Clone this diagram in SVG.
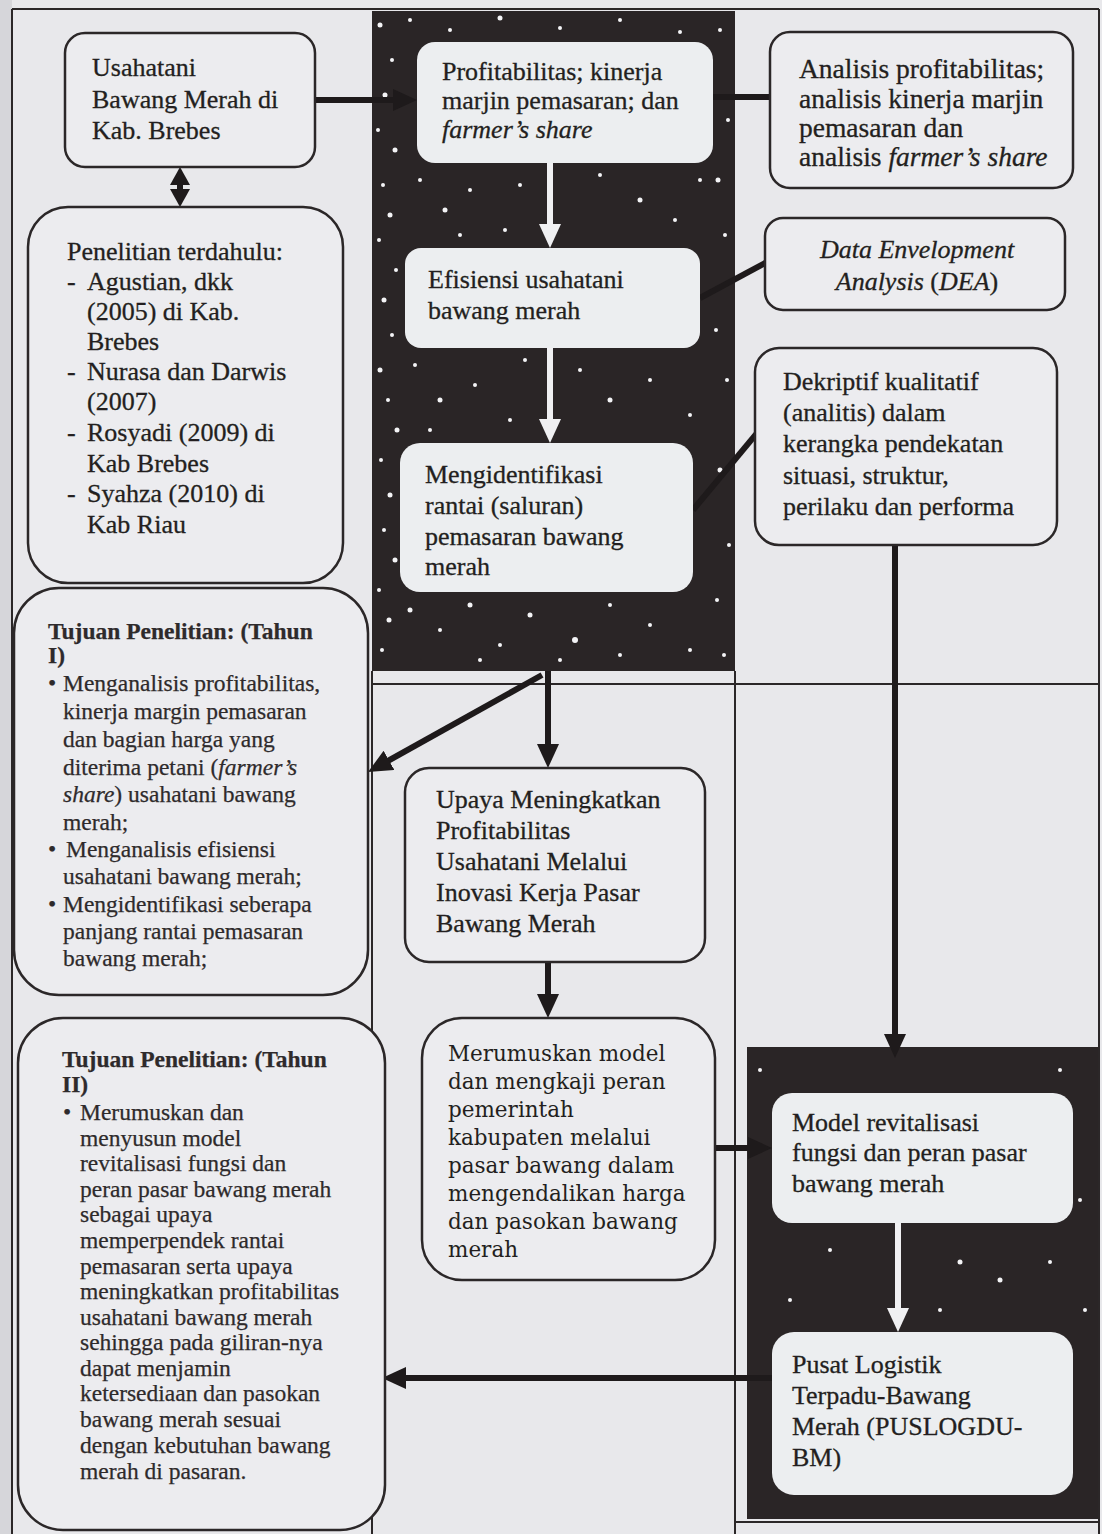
<svg xmlns="http://www.w3.org/2000/svg" width="1102" height="1534" viewBox="0 0 1102 1534">
<style>
.bg{fill:#e8e8eb}
.grid{stroke:#2b2728;stroke-width:2;fill:none}
.panel{fill:#2a2526}
.box{fill:#ececef;stroke:#2b2728;stroke-width:2.5}
.ibox{fill:#eceef0;stroke:none}
.t{font-family:"Liberation Serif","Times New Roman",serif;font-size:26px;fill:#231f20;stroke:#231f20;stroke-width:0.3}
.s{font-family:"Liberation Serif","Times New Roman",serif;font-size:23.5px;fill:#2e2a2b;stroke:#2e2a2b;stroke-width:0.25}
.w{font-family:"DejaVu Serif",serif;font-size:21.5px;fill:#231f20}
.b{font-weight:bold}
.i{font-style:italic}
.big{font-size:27.5px}
.con{stroke:#1e1a1b;stroke-width:6;fill:none}
.conw{stroke:#f0f0f2;stroke-width:6;fill:none}
.star{fill:#f4f4f6}
</style>
<defs>
<marker id="ah" markerUnits="userSpaceOnUse" markerWidth="24" markerHeight="22" refX="12" refY="11" orient="auto"><path d="M0,0 L24,11 L0,22 Z" fill="#1e1a1b"/></marker>
<marker id="ahs" markerUnits="userSpaceOnUse" markerWidth="18" markerHeight="20" refX="9" refY="10" orient="auto-start-reverse"><path d="M0,0 L18,10 L0,20 Z" fill="#1e1a1b"/></marker>
<marker id="ahw" markerUnits="userSpaceOnUse" markerWidth="24" markerHeight="22" refX="12" refY="11" orient="auto"><path d="M0,0 L24,11 L0,22 Z" fill="#f0f0f2"/></marker>
</defs>
<rect class="bg" x="0" y="0" width="1102" height="1534"/>
<rect x="0" y="0" width="12" height="1534" fill="#d6d6da"/>

<g id="grid">
<path class="grid" d="M12,9 H1099 M12,9 V1534 M1099,9 V1534 M372,671 V1534 M735,671 V1534 M372,684 H1099 M735,1522 H1099"/>
</g>

<g id="panel1">
<rect class="panel" x="372" y="11" width="363" height="660"/>
<g class="star">
<circle cx="380" cy="25" r="2.5"/><circle cx="392" cy="60" r="2"/><circle cx="385" cy="95" r="2.5"/><circle cx="378" cy="130" r="2"/><circle cx="395" cy="150" r="2.5"/><circle cx="383" cy="185" r="2"/><circle cx="390" cy="215" r="2.5"/><circle cx="379" cy="240" r="2"/><circle cx="396" cy="270" r="2"/><circle cx="384" cy="300" r="2.5"/><circle cx="392" cy="335" r="2"/><circle cx="380" cy="370" r="2.5"/><circle cx="388" cy="400" r="2"/><circle cx="397" cy="430" r="2.5"/><circle cx="381" cy="460" r="2"/><circle cx="390" cy="495" r="2.5"/><circle cx="384" cy="530" r="2"/><circle cx="395" cy="560" r="2.5"/><circle cx="379" cy="590" r="2"/><circle cx="389" cy="620" r="2.5"/><circle cx="382" cy="650" r="2"/>
<circle cx="720" cy="30" r="2"/><circle cx="728" cy="120" r="2"/><circle cx="718" cy="180" r="2.5"/><circle cx="725" cy="235" r="2"/><circle cx="716" cy="330" r="2"/><circle cx="727" cy="380" r="2"/><circle cx="720" cy="470" r="2.5"/><circle cx="729" cy="545" r="2"/><circle cx="717" cy="600" r="2"/><circle cx="724" cy="655" r="2"/>
<circle cx="410" cy="20" r="2"/><circle cx="450" cy="30" r="2"/><circle cx="500" cy="18" r="2.5"/><circle cx="560" cy="28" r="2"/><circle cx="620" cy="20" r="2"/><circle cx="680" cy="32" r="2"/>
<circle cx="420" cy="180" r="2"/><circle cx="445" cy="210" r="2.5"/><circle cx="470" cy="190" r="2"/><circle cx="505" cy="230" r="2"/><circle cx="600" cy="175" r="2"/><circle cx="640" cy="200" r="2.5"/><circle cx="675" cy="220" r="2"/><circle cx="700" cy="180" r="2"/><circle cx="520" cy="185" r="2"/><circle cx="460" cy="235" r="2"/>
<circle cx="415" cy="365" r="2"/><circle cx="440" cy="400" r="2.5"/><circle cx="475" cy="385" r="2"/><circle cx="510" cy="420" r="2"/><circle cx="580" cy="370" r="2"/><circle cx="610" cy="400" r="2.5"/><circle cx="650" cy="380" r="2"/><circle cx="690" cy="415" r="2"/><circle cx="525" cy="360" r="2"/><circle cx="430" cy="430" r="2"/>
<circle cx="410" cy="610" r="2.5"/><circle cx="440" cy="630" r="2"/><circle cx="470" cy="605" r="2.5"/><circle cx="500" cy="645" r="2"/><circle cx="530" cy="615" r="2.5"/><circle cx="575" cy="640" r="3"/><circle cx="610" cy="605" r="2"/><circle cx="650" cy="625" r="2"/><circle cx="690" cy="650" r="2"/><circle cx="480" cy="660" r="2"/><circle cx="560" cy="660" r="2"/><circle cx="620" cy="655" r="2"/>
</g>
</g>

<g id="panel2">
<rect class="panel" x="747" y="1047" width="351" height="472"/>
<g class="star">
<circle cx="760" cy="1070" r="2"/><circle cx="1060" cy="1070" r="2"/><circle cx="830" cy="1250" r="2"/><circle cx="1050" cy="1262" r="2"/><circle cx="960" cy="1262" r="2.5"/><circle cx="1000" cy="1280" r="2.5"/><circle cx="790" cy="1300" r="2"/><circle cx="940" cy="1310" r="2"/><circle cx="1080" cy="1200" r="2"/><circle cx="1085" cy="1310" r="2"/>
</g>
</g>

<g id="connectors">
<line class="con" x1="315" y1="100" x2="405" y2="100" marker-end="url(#ah)"/>
<line class="con" x1="713" y1="97" x2="770" y2="97"/>
<line class="con" x1="180" y1="176" x2="180" y2="198" marker-start="url(#ahs)" marker-end="url(#ahs)"/>
<line class="conw" x1="550" y1="163" x2="550" y2="236" marker-end="url(#ahw)"/>
<line class="con" x1="700" y1="298" x2="767" y2="262"/>
<line class="conw" x1="550" y1="348" x2="550" y2="431" marker-end="url(#ahw)"/>
<line class="con" x1="693" y1="510" x2="772" y2="415"/>
<line class="con" x1="895" y1="545" x2="895" y2="1046" marker-end="url(#ah)"/>
<line class="con" x1="548" y1="671" x2="548" y2="756" marker-end="url(#ah)"/>
<line class="con" x1="542" y1="675" x2="378.5" y2="766.2" marker-end="url(#ah)"/>
<line class="con" x1="548" y1="962" x2="548" y2="1006" marker-end="url(#ah)"/>
<line class="con" x1="715" y1="1148" x2="760" y2="1148" marker-end="url(#ah)"/>
<line class="conw" x1="898" y1="1223" x2="898" y2="1320" marker-end="url(#ahw)"/>
<line class="con" x1="772" y1="1378" x2="394" y2="1378" marker-end="url(#ah)"/>
</g>

<g id="n-usahatani">
<rect class="box" x="65" y="33" width="250" height="134" rx="20"/>
<text class="t" x="92" y="76">Usahatani</text>
<text class="t" x="92" y="108">Bawang Merah di</text>
<text class="t" x="92" y="139">Kab. Brebes</text>
</g>

<g id="n-profitabilitas">
<rect class="ibox" x="417" y="42" width="296" height="121" rx="18"/>
<text class="t" x="442" y="80">Profitabilitas; kinerja</text>
<text class="t" x="442" y="109">marjin pemasaran; dan</text>
<text class="t i" x="442" y="138">farmer’s share</text>
</g>

<g id="n-analisis">
<rect class="box" x="770" y="32" width="303" height="156" rx="20"/>
<text class="t big" x="799" y="78">Analisis profitabilitas;</text>
<text class="t big" x="799" y="108">analisis kinerja marjin</text>
<text class="t big" x="799" y="137">pemasaran dan</text>
<text class="t big" x="799" y="166">analisis <tspan class="i">farmer’s share</tspan></text>
</g>

<g id="n-dea">
<rect class="box" x="765" y="218" width="300" height="92" rx="18"/>
<text class="t i" x="917" y="258" text-anchor="middle">Data Envelopment</text>
<text class="t" x="917" y="290" text-anchor="middle"><tspan class="i">Analysis</tspan> (<tspan class="i">DEA</tspan>)</text>
</g>

<g id="n-efisiensi">
<rect class="ibox" x="405" y="248" width="295" height="100" rx="16"/>
<text class="t" x="428" y="288">Efisiensi usahatani</text>
<text class="t" x="428" y="319">bawang merah</text>
</g>

<g id="n-mengidentifikasi">
<rect class="ibox" x="400" y="443" width="293" height="149" rx="20"/>
<text class="t" x="425" y="483">Mengidentifikasi</text>
<text class="t" x="425" y="514">rantai (saluran)</text>
<text class="t" x="425" y="545">pemasaran bawang</text>
<text class="t" x="425" y="575">merah</text>
</g>

<g id="n-dekriptif">
<rect class="box" x="755" y="348" width="302" height="197" rx="24"/>
<text class="t" x="783" y="390">Dekriptif kualitatif</text>
<text class="t" x="783" y="421">(analitis) dalam</text>
<text class="t" x="783" y="452">kerangka pendekatan</text>
<text class="t" x="783" y="484">situasi, struktur,</text>
<text class="t" x="783" y="515">perilaku dan performa</text>
</g>

<g id="n-penelitian">
<rect class="box" x="28" y="207" width="315" height="376" rx="40"/>
<text class="t" x="67" y="260">Penelitian terdahulu:</text>
<text class="t" x="67" y="290">-</text><text class="t" x="87" y="290">Agustian, dkk</text>
<text class="t" x="87" y="320">(2005) di Kab.</text>
<text class="t" x="87" y="350">Brebes</text>
<text class="t" x="67" y="380">-</text><text class="t" x="87" y="380">Nurasa dan Darwis</text>
<text class="t" x="87" y="410">(2007)</text>
<text class="t" x="67" y="441">-</text><text class="t" x="87" y="441">Rosyadi (2009) di</text>
<text class="t" x="87" y="472">Kab Brebes</text>
<text class="t" x="67" y="502">-</text><text class="t" x="87" y="502">Syahza (2010) di</text>
<text class="t" x="87" y="533">Kab Riau</text>
</g>

<g id="n-tujuan1">
<rect class="box" x="14" y="588" width="354" height="407" rx="45"/>
<text class="s b" x="48" y="639">Tujuan Penelitian: (Tahun</text>
<text class="s b" x="48" y="663">I)</text>
<text class="s" x="48" y="691">•</text><text class="s" x="63" y="691">Menganalisis profitabilitas,</text>
<text class="s" x="63" y="719">kinerja margin pemasaran</text>
<text class="s" x="63" y="747">dan bagian harga yang</text>
<text class="s" x="63" y="775">diterima petani (<tspan class="i">farmer’s</tspan></text>
<text class="s" x="63" y="802"><tspan class="i">share</tspan>) usahatani bawang</text>
<text class="s" x="63" y="830">merah;</text>
<text class="s" x="48" y="857">•</text><text class="s" x="66" y="857">Menganalisis efisiensi</text>
<text class="s" x="63" y="884">usahatani bawang merah;</text>
<text class="s" x="48" y="912">•</text><text class="s" x="63" y="912">Mengidentifikasi seberapa</text>
<text class="s" x="63" y="939">panjang rantai pemasaran</text>
<text class="s" x="63" y="966">bawang merah;</text>
</g>

<g id="n-tujuan2">
<rect class="box" x="18" y="1018" width="367" height="512" rx="45"/>
<text class="s b" x="62" y="1067">Tujuan Penelitian: (Tahun</text>
<text class="s b" x="62" y="1092">II)</text>
<text class="s" x="63" y="1120">•</text><text class="s" x="80" y="1120">Merumuskan dan</text>
<text class="s" x="80" y="1146">menyusun model</text>
<text class="s" x="80" y="1171">revitalisasi fungsi dan</text>
<text class="s" x="80" y="1197">peran pasar bawang merah</text>
<text class="s" x="80" y="1222">sebagai upaya</text>
<text class="s" x="80" y="1248">memperpendek rantai</text>
<text class="s" x="80" y="1274">pemasaran serta upaya</text>
<text class="s" x="80" y="1299">meningkatkan profitabilitas</text>
<text class="s" x="80" y="1325">usahatani bawang merah</text>
<text class="s" x="80" y="1350">sehingga pada giliran-nya</text>
<text class="s" x="80" y="1376">dapat menjamin</text>
<text class="s" x="80" y="1401">ketersediaan dan pasokan</text>
<text class="s" x="80" y="1427">bawang merah sesuai</text>
<text class="s" x="80" y="1453">dengan kebutuhan bawang</text>
<text class="s" x="80" y="1479">merah di pasaran.</text>
</g>

<g id="n-upaya">
<rect class="box" x="405" y="768" width="300" height="194" rx="24"/>
<text class="t" x="436" y="808">Upaya Meningkatkan</text>
<text class="t" x="436" y="839">Profitabilitas</text>
<text class="t" x="436" y="870">Usahatani Melalui</text>
<text class="t" x="436" y="901">Inovasi Kerja Pasar</text>
<text class="t" x="436" y="932">Bawang Merah</text>
</g>

<g id="n-merumuskan">
<rect class="box" x="422" y="1018" width="293" height="262" rx="40"/>
<text class="w" x="448" y="1061">Merumuskan model</text>
<text class="w" x="448" y="1089">dan mengkaji peran</text>
<text class="w" x="448" y="1117">pemerintah</text>
<text class="w" x="448" y="1145">kabupaten melalui</text>
<text class="w" x="448" y="1173">pasar bawang dalam</text>
<text class="w" x="448" y="1201">mengendalikan harga</text>
<text class="w" x="448" y="1229">dan pasokan bawang</text>
<text class="w" x="448" y="1257">merah</text>
</g>

<g id="n-model">
<rect class="ibox" x="772" y="1093" width="301" height="130" rx="20"/>
<text class="t" x="792" y="1131">Model revitalisasi</text>
<text class="t" x="792" y="1161">fungsi dan peran pasar</text>
<text class="t" x="792" y="1192">bawang merah</text>
</g>

<g id="n-pusat">
<rect class="ibox" x="772" y="1332" width="301" height="163" rx="22"/>
<text class="t" x="792" y="1373">Pusat Logistik</text>
<text class="t" x="792" y="1404">Terpadu-Bawang</text>
<text class="t" x="792" y="1435">Merah (PUSLOGDU-</text>
<text class="t" x="792" y="1466">BM)</text>
</g>
</svg>
